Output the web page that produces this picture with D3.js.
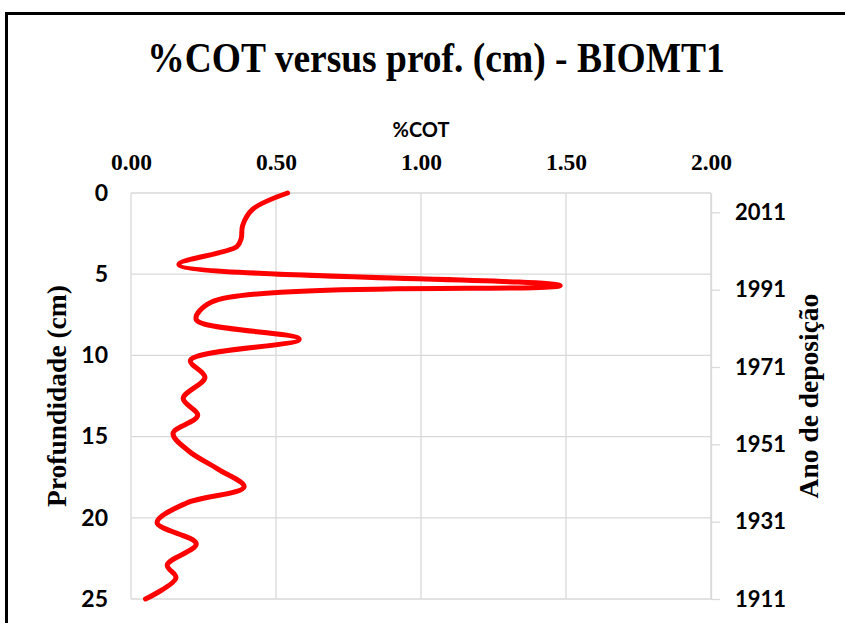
<!DOCTYPE html>
<html>
<head>
<meta charset="utf-8">
<script src="https://cdn.jsdelivr.net/npm/d3@7/dist/d3.min.js"></script>
<style>
  body { margin: 0; background: #fff; }
  .serif { font-family: "Liberation Serif", "Times New Roman", serif; font-weight: bold; }
  .sans { font-family: Lato, "Open Sans", sans-serif; font-weight: bold; }
</style>
</head>
<body>
<svg id="chart" width="845" height="623"></svg>
<script>
// Depth profile of organic carbon
var depthCm = [0, 1, 2, 2.8, 3.3, 4.4, 5.7, 6.7, 7.8, 9, 10.3, 11.35, 12.65, 13.7, 14.8, 15.9, 17, 18.1, 19.1, 20.3, 21.6, 22.9, 23.7, 25]
  , cotPct = [0.54, 0.42, 0.385, 0.38, 0.365, 0.165, 1.48, 0.28, 0.225, 0.58, 0.205, 0.255, 0.18, 0.23, 0.145, 0.2, 0.3, 0.39, 0.19, 0.09, 0.225, 0.125, 0.155, 0.05]
  , cotTicks = [0, 0.5, 1, 1.5, 2]
  , depthTicks = [0, 5, 10, 15, 20, 25]
  , yearTicks = [2011, 1991, 1971, 1951, 1931, 1911]
  , yearDomain = [1911, 2016]

var svg = d3.select('#chart')
  , plot = { left: 131, right: 711, top: 193, bottom: 599 }
  , gridColor = '#d9d9d9'
  , midY = (plot.top + plot.bottom) / 2

var x = d3.scaleLinear().domain([0, 2]).range([plot.left, plot.right])
  , y = d3.scaleLinear().domain([0, 25]).range([plot.top, plot.bottom])
  , yYear = d3.scaleLinear().domain(yearDomain).range([plot.bottom, plot.top])

// outer chart frame (cut off on the right and bottom in the original)
svg.append('rect')
  .attr('x', 6.5).attr('y', 13.5)
  .attr('width', 900).attr('height', 700)
  .attr('fill', 'none').attr('stroke', '#000').attr('stroke-width', 3)

svg.append('text').attr('class', 'serif')
  .attr('transform', 'translate(436,72) scale(1,1.1)')
  .attr('text-anchor', 'middle').attr('font-size', 37.5)
  .text('%COT versus prof. (cm) - BIOMT1')

// gridlines
svg.append('g').selectAll('line').data(cotTicks).enter().append('line')
  .attr('x1', function(d) { return x(d) }).attr('x2', function(d) { return x(d) })
  .attr('y1', plot.top).attr('y2', plot.bottom)
  .attr('stroke', gridColor).attr('stroke-width', 1.3)
svg.append('g').selectAll('line').data(depthTicks).enter().append('line')
  .attr('x1', plot.left).attr('x2', plot.right)
  .attr('y1', function(d) { return y(d) }).attr('y2', function(d) { return y(d) })
  .attr('stroke', gridColor).attr('stroke-width', 1.3)

// top axis (%COT)
var topAxis = svg.append('g')
  .attr('transform', 'translate(0,' + plot.top + ')')
  .call(d3.axisTop(x).tickValues(cotTicks).tickFormat(d3.format('.2f')).tickSize(0).tickPadding(23))
topAxis.select('.domain').remove()
topAxis.selectAll('text').attr('class', 'serif').attr('font-size', 23.5).attr('fill', '#000')

svg.append('text').attr('class', 'sans')
  .attr('x', x(1)).attr('y', 137)
  .attr('text-anchor', 'middle').attr('font-size', 20)
  .text('%COT')

// left axis (depth)
var leftAxis = svg.append('g')
  .attr('transform', 'translate(' + plot.left + ',0)')
  .call(d3.axisLeft(y).tickValues(depthTicks).tickSize(0).tickPadding(23))
leftAxis.select('.domain').remove()
leftAxis.selectAll('text').attr('class', 'sans').attr('font-size', 23).attr('fill', '#000')

svg.append('text').attr('class', 'serif')
  .attr('transform', 'translate(66,' + midY + ') rotate(-90)')
  .attr('text-anchor', 'middle').attr('font-size', 27.5)
  .text('Profundidade (cm)')

// right axis (deposition year)
var rightAxis = svg.append('g')
  .attr('transform', 'translate(' + plot.right + ',0)')
  .call(d3.axisRight(yYear).tickValues(yearTicks).tickFormat(d3.format('d')).tickSize(9).tickSizeOuter(0).tickPadding(15))
rightAxis.select('.domain').attr('stroke', gridColor).attr('stroke-width', 1.3)
rightAxis.selectAll('line').attr('stroke', gridColor).attr('stroke-width', 1.3)
rightAxis.selectAll('text').attr('class', 'sans').attr('font-size', 22).attr('fill', '#000')

svg.append('text').attr('class', 'serif')
  .attr('transform', 'translate(818,' + midY + ') rotate(-90)')
  .attr('text-anchor', 'middle').attr('font-size', 27.5)
  .text('Ano de deposição')

// smoothed profile line
var line = d3.line()
  .x(function(d) { return x(d[1]) })
  .y(function(d) { return y(d[0]) })
  .curve(d3.curveCatmullRom.alpha(0.5))

svg.append('path')
  .datum(d3.zip(depthCm, cotPct))
  .attr('d', line)
  .attr('fill', 'none')
  .attr('stroke', '#ff0000')
  .attr('stroke-width', 5)
  .attr('stroke-linejoin', 'round')
  .attr('stroke-linecap', 'round')
</script>
</body>
</html>
